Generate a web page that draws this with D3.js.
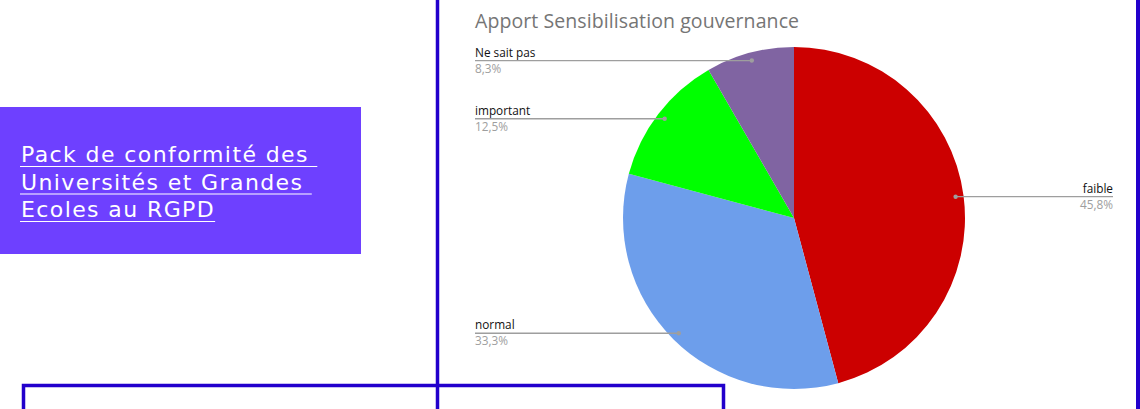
<!DOCTYPE html>
<html>
<head>
<meta charset="utf-8">
<style>
  body { margin: 0; background: #fff; }
  svg { display: block; }
</style>
</head>
<body>
<svg id="chart" width="1140" height="409"></svg>
<script src="https://d3js.org/d3.v7.min.js"></script>
<script>
  // data
  const categories = ["faible", "normal", "important", "Ne sait pas"];
  const counts = [11, 8, 3, 2];
  const pctLabels = ["45,8%", "33,3%", "12,5%", "8,3%"];
  const colors = ["#cc0000", "#6d9eeb", "#00ff00", "#8064a2"];
  const title = "Apport Sensibilisation gouvernance";
  const bannerLines = ["Pack de conformité des ", "Universités et Grandes ", "Ecoles au RGPD"];

  const svg = d3.select("#chart");
  const frame = "#2200cc";

  // purple banner on the left
  svg.append("rect")
    .attr("x", 0).attr("y", 107).attr("width", 361).attr("height", 147)
    .attr("fill", "#6e40ff");

  const banner = svg.append("g");
  bannerLines.forEach((t, i) => {
    const txt = banner.append("text")
      .attr("x", 21).attr("y", 162 + i * 27.5)
      .attr("fill", "#fff")
      .attr("font-family", "'DejaVu Sans', sans-serif")
      .attr("font-size", 22)
      .attr("letter-spacing", 1.4)
      .style("white-space", "pre")
      .text(t);
    const w = txt.node().getComputedTextLength();
    banner.append("line")
      .attr("x1", 20).attr("x2", 21 + w)
      .attr("y1", 166.5 + i * 27.5).attr("y2", 166.5 + i * 27.5)
      .attr("stroke", "#fff").attr("stroke-width", 1.2);
  });

  // chart title
  svg.append("text")
    .attr("x", 475).attr("y", 28)
    .attr("fill", "#757575")
    .attr("font-family", "'Open Sans', sans-serif")
    .attr("font-size", 19.5)
    .attr("textLength", 324)
    .text(title);

  // pie
  const cx = 794, cy = 218, r = 171;
  const pie = d3.pie().sort(null).value(d => d)(counts);
  const arc = d3.arc().innerRadius(0).outerRadius(r);
  const dotArc = d3.arc().innerRadius(163).outerRadius(163);

  const g = svg.append("g").attr("transform", `translate(${cx},${cy})`);
  g.selectAll("path")
    .data(pie)
    .join("path")
    .attr("d", arc)
    .attr("fill", (d, i) => colors[i]);

  // leader lines and labels
  const labelRight = 1113, labelLeft = 475;
  pie.forEach((d, i) => {
    const [px, py] = dotArc.centroid(d);
    const x = cx + px, y = cy + py;
    const right = x > cx;
    const endX = right ? labelRight : labelLeft;
    svg.append("line")
      .attr("x1", x).attr("y1", y)
      .attr("x2", endX).attr("y2", y)
      .attr("stroke", "#9e9e9e").attr("stroke-width", 1.3);
    svg.append("circle")
      .attr("cx", x).attr("cy", y).attr("r", 2.2)
      .attr("fill", "#9e9e9e");
    const anchor = right ? "end" : "start";
    svg.append("text")
      .attr("x", endX).attr("y", y - 4)
      .attr("text-anchor", anchor)
      .attr("fill", "#111")
      .attr("font-family", "'Open Sans', sans-serif")
      .attr("font-size", 11.8)
      .text(categories[i]);
    svg.append("text")
      .attr("x", endX).attr("y", y + 12)
      .attr("text-anchor", anchor)
      .attr("fill", "#9e9e9e")
      .attr("font-family", "'Open Sans', sans-serif")
      .attr("font-size", 11.8)
      .text(pctLabels[i]);
  });

  // blue frame lines
  svg.append("line")
    .attr("x1", 437.5).attr("x2", 437.5).attr("y1", 0).attr("y2", 409)
    .attr("stroke", frame).attr("stroke-width", 3.5);
  svg.append("line")
    .attr("x1", 1138).attr("x2", 1138).attr("y1", 0).attr("y2", 409)
    .attr("stroke", frame).attr("stroke-width", 4);
  svg.append("path")
    .attr("d", "M23.5,412 V385.5 H723.5 V412")
    .attr("fill", "none")
    .attr("stroke", frame).attr("stroke-width", 3.5);
</script>
</body>
</html>
